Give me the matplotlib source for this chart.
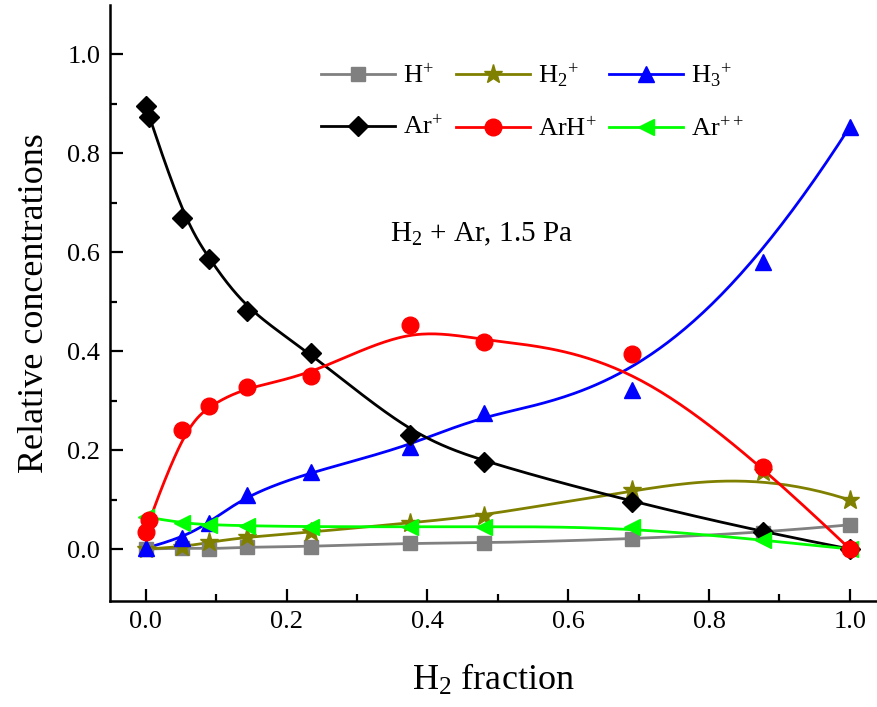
import numpy as np
import matplotlib
matplotlib.use("Agg")
import matplotlib.pyplot as plt

plt.rcParams['font.family'] = ['Liberation Serif', 'DejaVu Serif']
plt.rcParams['mathtext.fontset'] = 'custom'
plt.rcParams['mathtext.rm'] = 'Liberation Serif'
plt.rcParams['mathtext.it'] = 'Liberation Serif:italic'

# H2 fraction (x) for each series
x_full = [0.0, 0.052, 0.09, 0.143, 0.234, 0.375, 0.48, 0.69, 0.877, 1.0]
x_two0 = [0.0, 0.005, 0.052, 0.09, 0.143, 0.234, 0.375, 0.48, 0.69, 0.877, 1.0]

h1 = [0.0, 0.002, 0.0, 0.004, 0.005, 0.012, 0.012, 0.020, 0.033, 0.049]
h2 = [0.0, 0.004, 0.014, 0.024, 0.034, 0.053, 0.067, 0.119, 0.156, 0.099]
h3 = [0.002, 0.022, 0.053, 0.109, 0.156, 0.207, 0.275, 0.322, 0.581, 0.854]
ar = [0.895, 0.874, 0.67, 0.587, 0.482, 0.397, 0.231, 0.176, 0.095, 0.034, 0.0]
arh = [0.034, 0.059, 0.241, 0.29, 0.328, 0.35, 0.453, 0.419, 0.395, 0.166, 0.0]
ar2 = [0.065, 0.052, 0.049, 0.047, 0.045, 0.045, 0.045, 0.045, 0.018, 0.0]


def bspline(x, y, n=300):
    # clamped cubic B-spline, data points as control points (Origin style)
    P = np.column_stack([x, y]).astype(float)
    m = len(P)
    k = 3
    inner = np.arange(1, m - k)
    t = np.concatenate([np.zeros(k + 1), inner, np.full(k + 1, m - k)]).astype(float)
    u = np.linspace(0, m - k, n)
    u[-1] -= 1e-9
    out = []
    for uu in u:
        j = np.searchsorted(t, uu, side='right') - 1
        d = [P[j - k + i].copy() for i in range(k + 1)]
        for r in range(1, k + 1):
            for i in range(k, r - 1, -1):
                a = (uu - t[j - k + i]) / (t[j + 1 + i - r] - t[j - k + i])
                d[i] = (1 - a) * d[i - 1] + a * d[i]
        out.append(d[k])
    out = np.array(out)
    return out[:, 0], out[:, 1]


fig = plt.figure(figsize=(8.77, 7.07), dpi=100)
ax = fig.add_axes([0.1254, 0.15, 0.8734, 0.843])

series = [
    (x_full, h1, '#808080', 's', 10, r'$\mathrm{H}^{+}$'),
    (x_full, h2, '#808000', '*', 14, r'$\mathrm{H}_{2}{}^{+}$'),
    (x_full, h3, '#0000ff', '^', 12, r'$\mathrm{H}_{3}{}^{+}$'),
    (x_two0, ar, '#000000', 'D', 10, r'$\mathrm{Ar}^{+}$'),
    (x_full, ar2, '#00ff00', '<', 12, r'$\mathrm{Ar}^{++}$'),
    (x_two0, arh, '#ff0000', 'o', 12, r'$\mathrm{ArH}^{+}$'),
]

handles = {}
for i, (xs, ys, c, mk, ms, lab) in enumerate(series):
    bx, by = bspline(xs, ys)
    ax.plot(bx, by, color=c, lw=2, zorder=2 + i)
    ax.plot(xs, ys, ls='none', marker=mk, ms=ms, color=c, mec=c, zorder=10 + i)
    h, = ax.plot([], [], color=c, lw=2, marker=mk, ms=ms, mec=c)
    handles[lab] = h

order = [r'$\mathrm{H}^{+}$', r'$\mathrm{Ar}^{+}$',
         r'$\mathrm{H}_{2}{}^{+}$', r'$\mathrm{ArH}^{+}$',
         r'$\mathrm{H}_{3}{}^{+}$', r'$\mathrm{Ar}^{++}$']
ax.legend([handles[o] for o in order], order, ncol=3, frameon=False,
          fontsize=19, handlelength=2.8, handletextpad=0.3, columnspacing=0.5,
          labelspacing=1.05, loc='upper left', bbox_to_anchor=(0.245, 0.945))

ax.text(0.347, 0.636, r'$\mathrm{H}_{2}$ + Ar, 1.5 Pa', fontsize=21,
        va='center', ha='left')

ax.set_xlim(-0.051, 1.037)
ax.set_ylim(-0.105, 1.1)
ax.set_xticks(np.arange(0, 1.01, 0.2))
ax.set_xticks(np.arange(0.1, 1.0, 0.2), minor=True)
ax.set_yticks(np.arange(0, 1.01, 0.2))
ax.set_yticks(np.arange(0.1, 1.0, 0.2), minor=True)
ax.set_xticklabels(['0.0', '0.2', '0.4', '0.6', '0.8', '1.0'])
ax.set_yticklabels(['0.0', '0.2', '0.4', '0.6', '0.8', '1.0'])
ax.tick_params(which='major', direction='in', length=9, width=1.6,
               labelsize=19, pad=7)
ax.tick_params(which='minor', direction='in', length=5, width=1.6)
for s in ['top', 'right']:
    ax.spines[s].set_visible(False)
for s in ['left', 'bottom']:
    ax.spines[s].set_linewidth(1.8)

ax.set_xlabel(r'$\mathrm{H}_{2}$ fraction', fontsize=26, labelpad=22)
ax.set_ylabel('Relative concentrations', fontsize=26, labelpad=12)

plt.savefig('out.png', dpi=100)
